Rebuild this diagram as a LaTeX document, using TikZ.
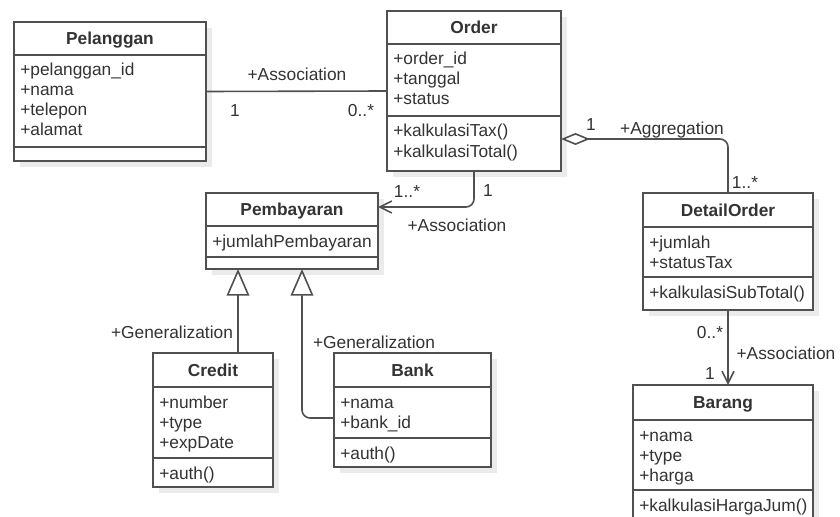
\documentclass[tikz,border=0pt]{standalone}
\usepackage{fontspec}
\setmainfont{Liberation Sans}
\usetikzlibrary{arrows.meta,calc}
\definecolor{linec}{HTML}{505050}
\definecolor{textc}{HTML}{333333}
\definecolor{shadowc}{HTML}{EBEBEB}
\tikzset{
  boxline/.style={draw=linec, line width=1.2pt},
  classbox/.style={boxline, fill=white, inner sep=0pt, outer sep=0pt},
  titletext/.style={text=textc, font=\fontsize{13}{15}\selectfont\bfseries, inner sep=0pt, text height=9.3pt, text depth=0pt, anchor=center},
  membertext/.style={text=textc, font=\fontsize{13}{15}\selectfont, inner sep=0pt, anchor=base west},
  lbl/.style={text=textc, font=\fontsize{13}{15}\selectfont, inner sep=0pt, text height=9.3pt, text depth=0pt, anchor=center},
  conn/.style={draw=linec, line width=1.2pt, rounded corners=6pt},
  assocarrow/.style={conn, -{Straight Barb[length=9pt, width=9pt, line width=1.2pt]}},
  genarrow/.style={conn, -{Triangle[length=20pt, width=17pt, fill=white, line width=1.2pt]}},
  aggarrow/.style={conn, {Diamond[length=21.75pt, width=9pt, fill=white, line width=1.2pt]}-},
}
% #1 name, #2 left, #3 top, #4 right, #5 header y, #6 attr y, #7 bottom, #8 title
\newcommand{\umlclass}[8]{%
  \fill[shadowc] ({#2+6},{#3+6}) rectangle ({#4+6},{#7+6});
  \node[classbox, minimum width={(#4-#2)*0.75pt}, minimum height={(#7-#3)*0.75pt}] (#1) at ({(#2+#4)/2},{(#3+#7)/2}) {};
  \draw[boxline] ({#2},{#5}) -- ({#4},{#5});
  \draw[boxline] ({#2},{#6}) -- ({#4},{#6});
  \node[titletext] (#1-title) at ({(#2+#4)/2},{(#3+#5)/2}) {#8};
}
% #1 name prefix, #2 left, #3 divider y, #4 list
\newcommand{\umlmembers}[4]{%
  \foreach \t [count=\i] in {#4} {\node[membertext] (#1\i) at ({#2+6},{#3+1+20*\i}) {\t};}
}
\begin{document}
\begin{tikzpicture}[x=0.75pt, y=-0.75pt]
\useasboundingbox (0,0) rectangle (840,517);
\fill[white] (0,0) rectangle (840,517);
\clip (0,0) rectangle (840,517);

% classes
\umlclass{pel}{14}{22}{206}{55}{147}{161}{Pelanggan}
\umlmembers{pel-a}{14}{55}{+pelanggan\_id,+nama,+telepon,+alamat}

\umlclass{ord}{387}{11}{561}{44}{116}{171}{Order}
\umlmembers{ord-a}{387}{44}{+order\_id,+tanggal,+status}
\umlmembers{ord-m}{387}{116}{+kalkulasiTax(),+kalkulasiTotal()}

\umlclass{pem}{206}{193}{378}{226}{257}{269}{Pembayaran}
\umlmembers{pem-a}{206}{226}{+jumlahPembayaran}

\umlclass{dto}{643}{193}{813}{227}{277}{310}{DetailOrder}
\umlmembers{dto-a}{643}{227}{+jumlah,+statusTax}
\umlmembers{dto-m}{643}{277}{+kalkulasiSubTotal()}

\umlclass{cre}{153}{353}{273}{387}{458}{487}{Credit}
\umlmembers{cre-a}{153}{387}{+number,+type,+expDate}
\umlmembers{cre-m}{153}{458}{+auth()}

\umlclass{bnk}{334}{353}{491}{387}{438}{467}{Bank}
\umlmembers{bnk-a}{334}{387}{+nama,+bank\_id}
\umlmembers{bnk-m}{334}{438}{+auth()}

\umlclass{brg}{633}{385}{813}{420}{490}{526}{Barang}
\umlmembers{brg-a}{633}{420}{+nama,+type,+harga}
\umlmembers{brg-m}{633}{490}{+kalkulasiHargaJum()}

% connectors
\draw[conn] (pel.east) -- (ord.west);
\draw[aggarrow] ([yshift=-36pt]ord.east) -| (dto.north);
\draw[assocarrow] (ord.south) |- ([yshift=18pt]pem.east);
\draw[genarrow] ([xshift=18.75pt]cre.north) -- ([xshift=18.75pt]cre.north |- pem.south);
\draw[genarrow] ([yshift=-6pt]bnk.west) -| ([xshift=7.5pt]pem.south);
\draw[assocarrow] (dto.south) -- (dto.south |- brg.north);

% labels
\node[lbl] (lAssoc1) at (297,74) {+Association};
\node[lbl] (m1) at (235,110) {1};
\node[lbl] (m2) at (361,110) {0..*};
\node[lbl] (m3) at (591,124) {1};
\node[lbl] (lAgg) at (672,128) {+Aggregation};
\node[lbl] (m4) at (745,182) {1..*};
\node[lbl] (m5) at (407,191) {1..*};
\node[lbl] (m6) at (488,190) {1};
\node[lbl] (lAssoc2) at (457,225) {+Association};
\node[lbl] (lGen1) at (172,332) {+Generalization};
\node[lbl] (lGen2) at (374,342) {+Generalization};
\node[lbl] (m7) at (710,332) {0..*};
\node[lbl] (lAssoc3) at (786,353) {+Association};
\node[lbl] (m8) at (710,373) {1};
\end{tikzpicture}
\end{document}
